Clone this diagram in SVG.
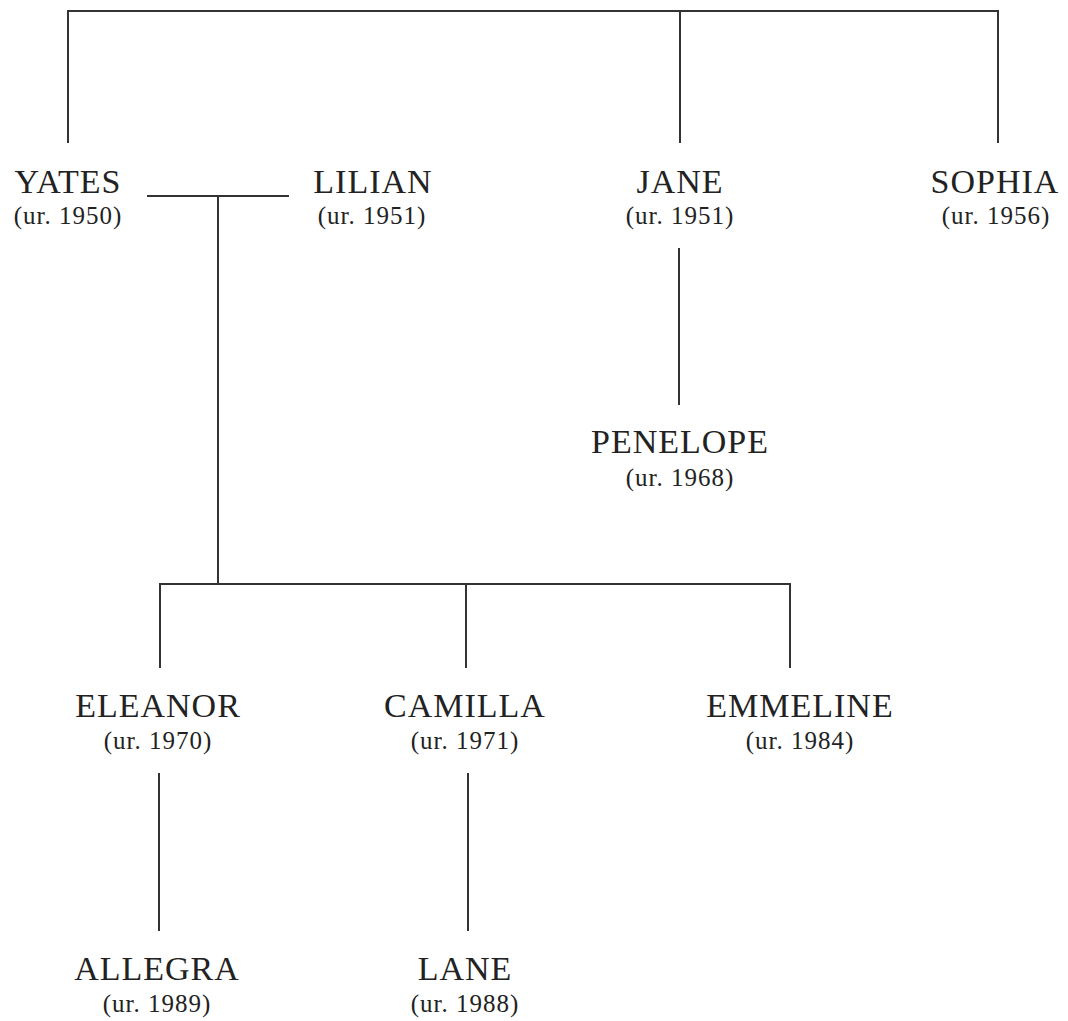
<svg xmlns="http://www.w3.org/2000/svg" width="1068" height="1021" viewBox="0 0 1068 1021">
<style>
.n{font-family:"Liberation Serif","Times New Roman",serif;font-size:34px;fill:#222;text-anchor:middle;letter-spacing:1px}
.y{font-family:"Liberation Serif","Times New Roman",serif;font-size:25px;fill:#222;text-anchor:middle;letter-spacing:1px}
.c line,.c polyline{stroke:#333;stroke-width:2;fill:none}
</style>
<rect width="1068" height="1021" fill="#fff"/>
<g class="c" id="connectors">
<polyline points="68,143 68,11 998,11 998,143"/>
<line x1="680" y1="11" x2="680" y2="143"/>
<line x1="147" y1="196" x2="289" y2="196"/>
<line x1="218" y1="196" x2="218" y2="584"/>
<line x1="679" y1="248" x2="679" y2="405"/>
<polyline points="160,668 160,584 790,584 790,668"/>
<line x1="466" y1="584" x2="466" y2="668"/>
<line x1="159" y1="773" x2="159" y2="931"/>
<line x1="468" y1="773" x2="468" y2="931"/>
</g>
<g id="yates"><text class="n" x="68" y="193">YATES</text><text class="y" x="68" y="224">(ur. 1950)</text></g>
<g id="lilian"><text class="n" x="373" y="193">LILIAN</text><text class="y" x="372" y="224">(ur. 1951)</text></g>
<g id="jane"><text class="n" x="680" y="193">JANE</text><text class="y" x="680" y="224">(ur. 1951)</text></g>
<g id="sophia"><text class="n" x="995" y="193">SOPHIA</text><text class="y" x="996" y="224">(ur. 1956)</text></g>
<g id="penelope"><text class="n" x="680" y="453">PENELOPE</text><text class="y" x="680" y="486">(ur. 1968)</text></g>
<g id="eleanor"><text class="n" x="158" y="717">ELEANOR</text><text class="y" x="158" y="749">(ur. 1970)</text></g>
<g id="camilla"><text class="n" x="465" y="717">CAMILLA</text><text class="y" x="465" y="749">(ur. 1971)</text></g>
<g id="emmeline"><text class="n" x="800" y="717">EMMELINE</text><text class="y" x="800" y="749">(ur. 1984)</text></g>
<g id="allegra"><text class="n" x="157" y="980">ALLEGRA</text><text class="y" x="157" y="1012">(ur. 1989)</text></g>
<g id="lane"><text class="n" x="465" y="980">LANE</text><text class="y" x="465" y="1012">(ur. 1988)</text></g>
</svg>
